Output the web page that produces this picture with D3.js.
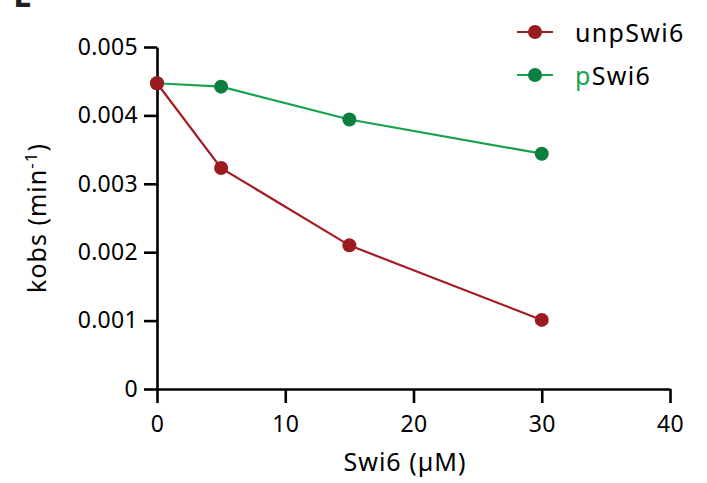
<!DOCTYPE html>
<html><head><meta charset="utf-8">
<script src="https://cdn.jsdelivr.net/npm/d3@7"></script>
<style>body{margin:0;background:#fff}svg{display:block}text{font-family:"Noto Sans",sans-serif}</style>
</head><body>
<script>
const concentrations = [0, 5, 15, 30];
const unpSwi6 = [0.00447, 0.00323, 0.00210, 0.00101];
const pSwi6 = [0.00447, 0.00442, 0.00394, 0.00344];
const xTicks = [0, 10, 20, 30, 40];
const yTicks = [0, 0.001, 0.002, 0.003, 0.004, 0.005];
const yTickLabels = ["0", "0.001", "0.002", "0.003", "0.004", "0.005"];

const W = 707, H = 483;
const svg = d3.select("body").append("svg").attr("width", W).attr("height", H);
const x = d3.scaleLinear().domain([0, 40]).range([157, 670]);
const y = d3.scaleLinear().domain([0, 0.005]).range([389, 47]);

// panel letter (clipped at top, as in the reference)
svg.append("text").attr("x", 13).attr("y", 7).attr("font-size", 34).attr("font-weight", "bold").attr("fill", "#231f20").text("E");

const xAxis = svg.append("g").attr("transform", "translate(0,389)")
  .call(d3.axisBottom(x).tickValues(xTicks).tickFormat(d3.format("d")).tickSize(14).tickSizeOuter(0).tickPadding(13));
const yAxis = svg.append("g").attr("transform", "translate(157,0)")
  .call(d3.axisLeft(y).tickValues(yTicks).tickFormat((d, i) => yTickLabels[i]).tickSize(13).tickSizeOuter(0).tickPadding(6));
[xAxis, yAxis].forEach(a => {
  a.selectAll("path,line").attr("stroke", "#000").attr("stroke-width", 2.6);
  a.selectAll("text").attr("font-size", 23).attr("fill", "#000").style("letter-spacing", "0.3px").style("font-family", '"Noto Sans",sans-serif');
});

svg.append("text").attr("x", 405).attr("y", 471).attr("text-anchor", "middle").attr("font-size", 25).style("letter-spacing", "1px").text("Swi6 (µM)");
const yl = svg.append("text").attr("transform", "translate(46,218) rotate(-90)").attr("text-anchor", "middle").attr("font-size", 25).style("letter-spacing", "1px");
yl.append("tspan").text("kobs (min");
yl.append("tspan").attr("dy", -9).attr("font-size", 17).text("-1");
yl.append("tspan").attr("dy", 9).text(")");

const series = [
  {name: "unpSwi6", values: unpSwi6, line: "#a31d22", dot: "#9b1b20"},
  {name: "pSwi6", values: pSwi6, line: "#17a24e", dot: "#0c7f40"}
];
const line = d3.line().x((d, i) => x(concentrations[i])).y(d => y(d));
[series[1], series[0]].forEach(s => {
  svg.append("path").datum(s.values).attr("d", line).attr("fill", "none").attr("stroke", s.line).attr("stroke-width", 2.2);
  svg.selectAll(null).data(s.values).enter().append("circle")
    .attr("cx", (d, i) => x(concentrations[i])).attr("cy", d => y(d)).attr("r", 7).attr("fill", s.dot);
});

// legend
series.forEach((s, i) => {
  const ly = 32 + i * 43;
  svg.append("line").attr("x1", 517).attr("x2", 553).attr("y1", ly).attr("y2", ly).attr("stroke", s.line).attr("stroke-width", 2.2);
  svg.append("circle").attr("cx", 535).attr("cy", ly).attr("r", 7).attr("fill", s.dot);
  const t = svg.append("text").attr("x", 575).attr("y", ly + 10).attr("font-size", 25).style("letter-spacing", "1.3px");
  if (s.name === "pSwi6") {
    t.append("tspan").attr("fill", "#17a24e").text("p");
    t.append("tspan").attr("fill", "#000").text("Swi6");
  } else t.attr("fill", "#000").text(s.name);
});
</script>
</body></html>
